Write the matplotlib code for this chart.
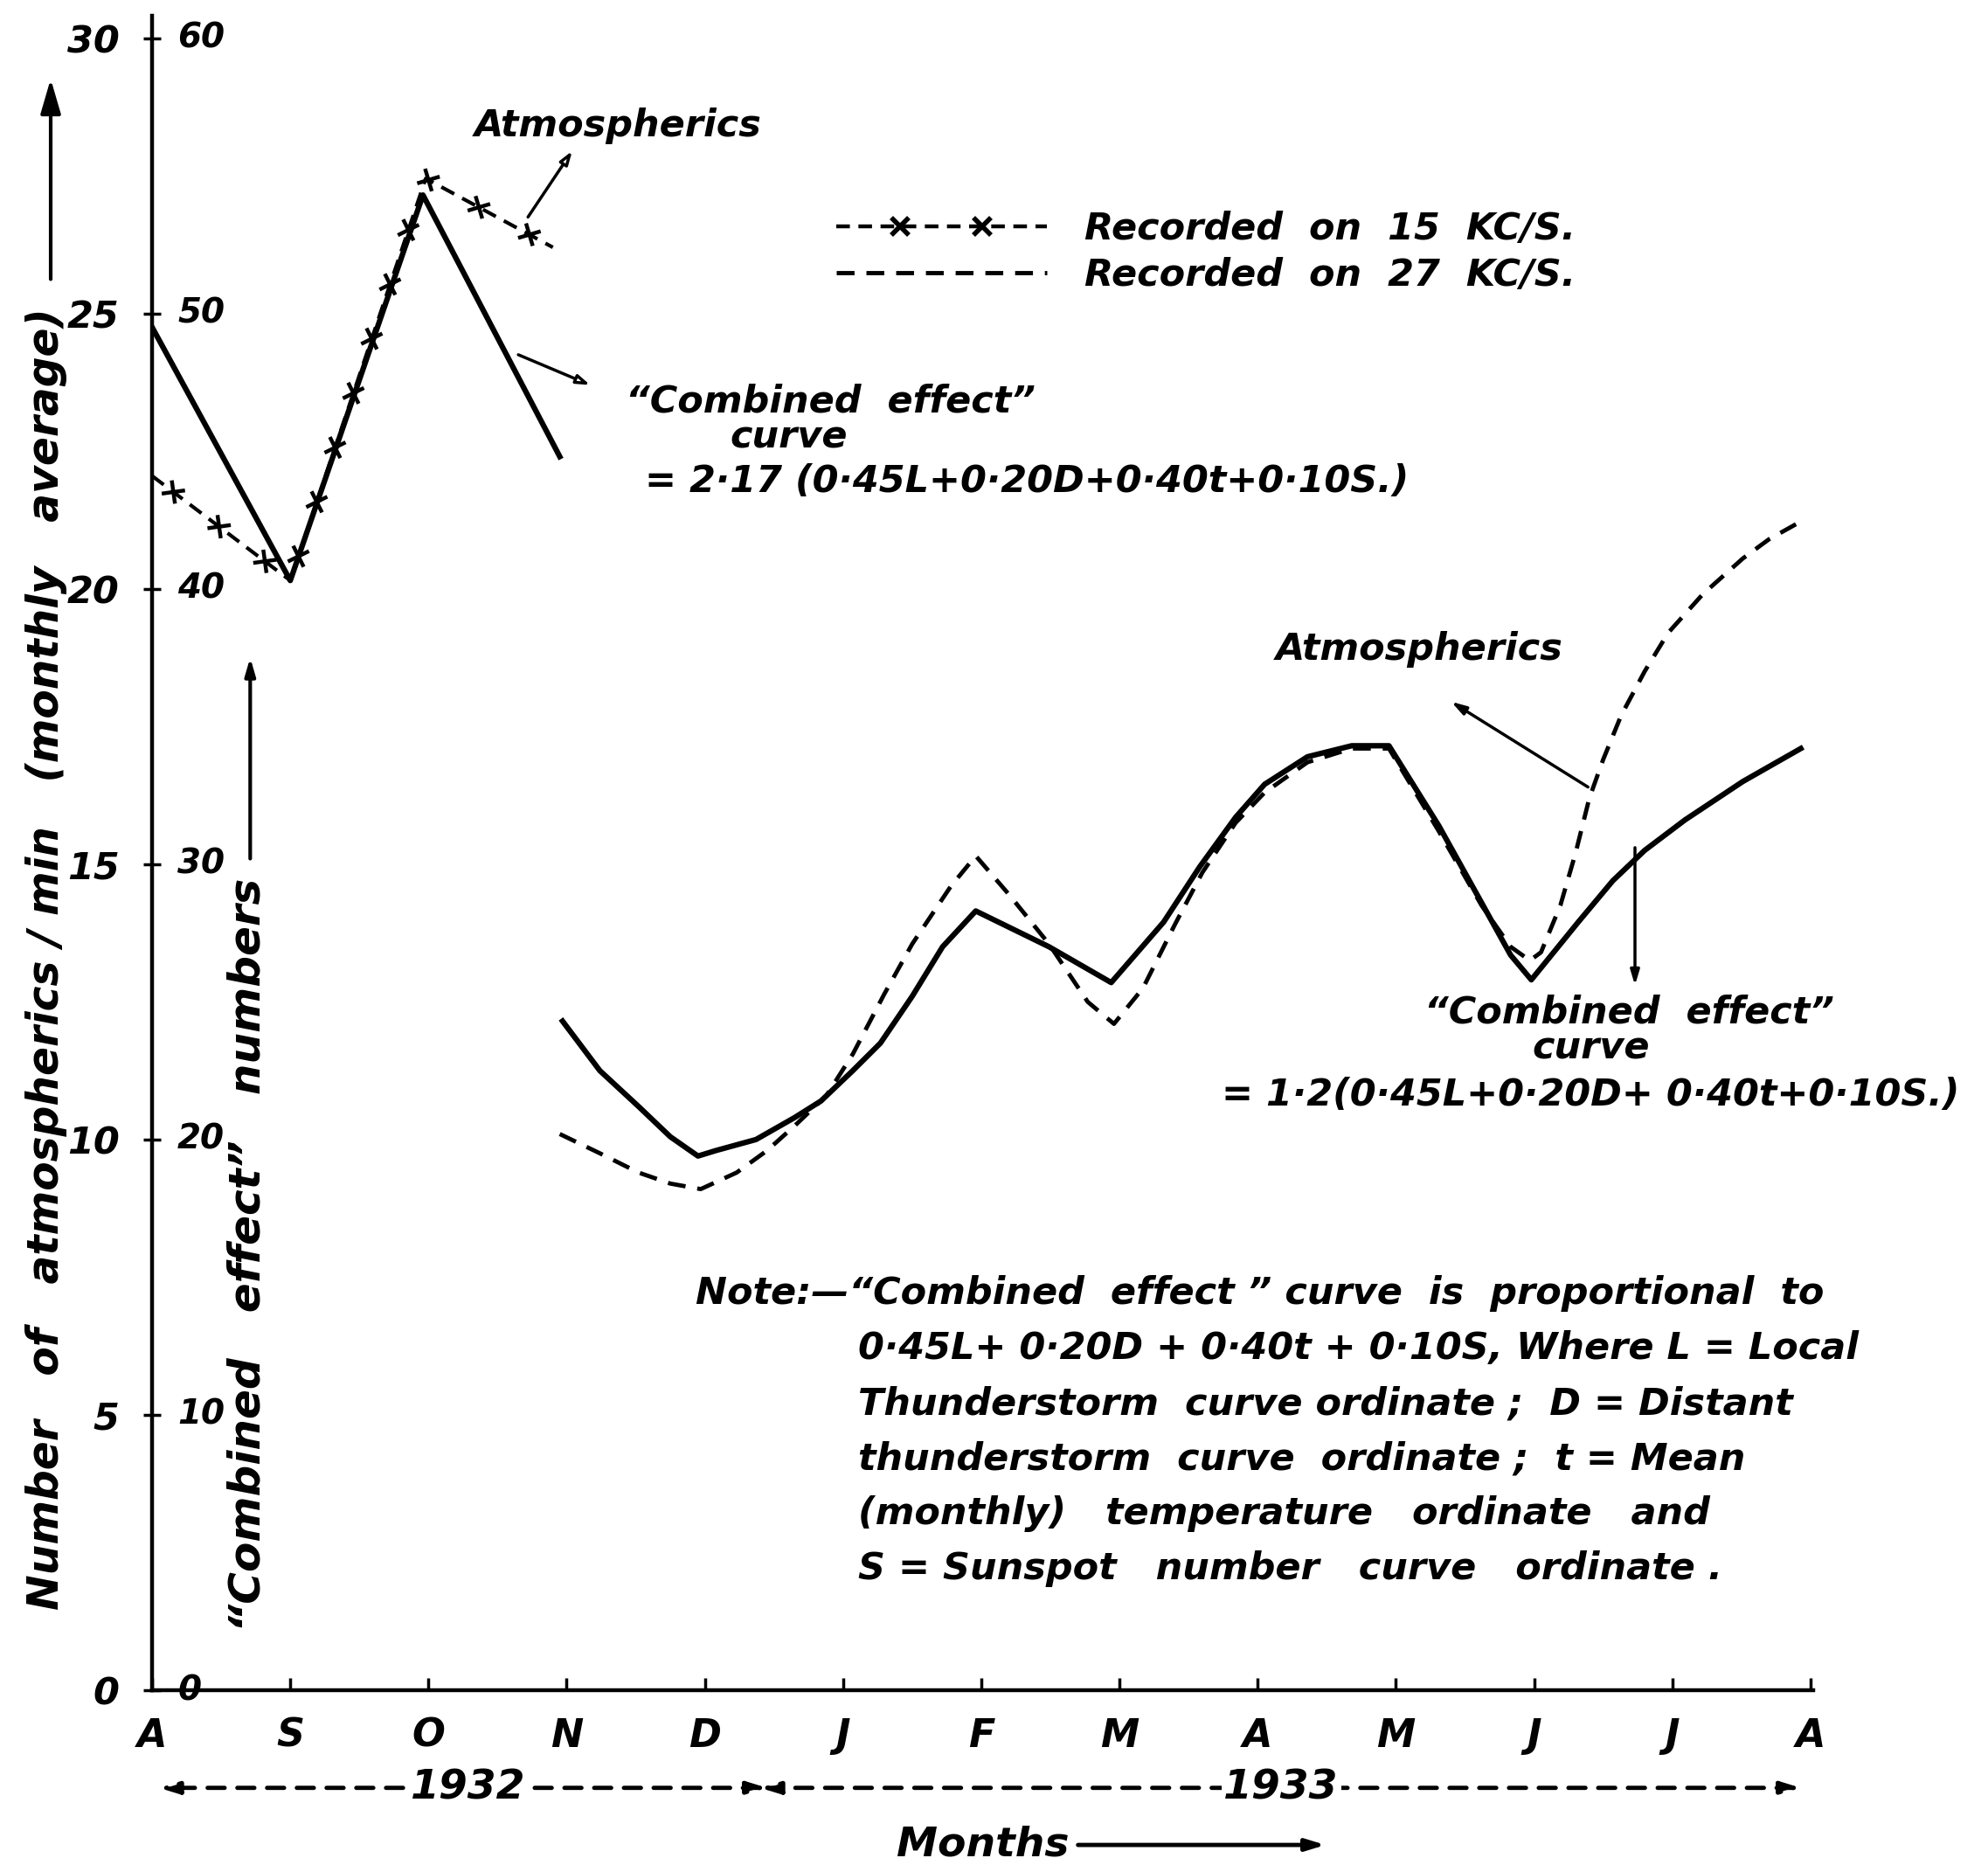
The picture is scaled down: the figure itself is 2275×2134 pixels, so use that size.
import matplotlib
matplotlib.use("Agg")
import numpy as np
import matplotlib.pyplot as plt
from matplotlib import patheffects as pe
from matplotlib.legend_handler import HandlerLine2D, HandlerTuple
from matplotlib.lines import Line2D

plt.rcParams['font.family'] = ['DejaVu Sans']
plt.rcParams['font.weight'] = 'bold'
plt.rcParams['font.style'] = 'italic'

# month axis: 0 = Aug 1932 ... 12 = Aug 1933
months = ['A', 'S', 'O', 'N', 'D', 'J', 'F', 'M', 'A', 'M', 'J', 'J', 'A']
left_ticks = [0, 5, 10, 15, 20, 25, 30]          # atmospherics / min
right_ticks = [0, 10, 20, 30, 40, 50, 60]        # "combined effect" numbers

# 1932 part, "combined effect" numbers
comb_1932_x = [0, 1, 1.96, 2.95]
comb_1932 = [49.5, 40.3, 54.3, 44.8]

# atmospherics recorded on 15 kc/s (per min)
atm15_x = [0, 1, 1.98, 2.9]
atm15 = [22.05, 20.15, 27.45, 26.2]

# 1932-33 part, "combined effect" numbers
comb_1933_x = [2.97, 3.24, 3.52, 3.75, 3.95, 4.08, 4.37, 4.65, 4.84, 5.07,
               5.27, 5.50, 5.72, 5.96, 6.49, 6.94, 7.32, 7.58, 7.84, 8.05,
               8.36, 8.68, 8.95, 9.31, 9.62, 9.83, 9.98, 10.32, 10.57, 10.80,
               11.09, 11.51, 11.93]
comb_1933 = [24.3, 22.5, 21.2, 20.1, 19.4, 19.6, 20.0, 20.8, 21.4, 22.5,
             23.5, 25.2, 27.0, 28.3, 27.0, 25.7, 27.9, 29.9, 31.7, 32.9,
             33.9, 34.3, 34.3, 31.4, 28.6, 26.7, 25.8, 27.9, 29.4, 30.5,
             31.6, 33.0, 34.2]

# atmospherics recorded on 27 kc/s (per min)
atm27_x = [2.95, 3.24, 3.52, 3.75, 3.97, 4.23, 4.45, 4.65, 4.88, 5.07,
           5.30, 5.50, 5.78, 5.96, 6.20, 6.49, 6.77, 6.96, 7.17, 7.40,
           7.60, 7.84, 8.05, 8.36, 8.68, 8.95, 9.31, 9.62, 9.83, 9.97,
           10.05, 10.19, 10.30, 10.40, 10.50, 10.63, 10.80, 10.97, 11.22, 11.51,
           11.70, 11.95]
atm27 = [10.1, 9.75, 9.4, 9.2, 9.1, 9.4, 9.8, 10.25, 10.8, 11.55,
         12.65, 13.55, 14.6, 15.15, 14.45, 13.55, 12.5, 12.1, 12.75, 13.9,
         14.85, 15.75, 16.3, 16.85, 17.1, 17.1, 15.6, 14.25, 13.5, 13.25,
         13.4, 14.25, 15.2, 16.2, 16.9, 17.7, 18.5, 19.2, 19.9, 20.55,
         20.9, 21.25]

FS = 31

fig = plt.figure(figsize=(22.75, 21.34), dpi=100)
ax = fig.add_axes([0.0765, 0.0937, 0.8356, 0.8977])

# atmospherics are plotted on the combined scale (1 atm/min = 2 units)
atm15_plot = np.array(atm15) * 2
atm27_plot = np.array(atm27) * 2

ax.plot(comb_1932_x, comb_1932, color='black', lw=4.5)
ax.plot(comb_1933_x, comb_1933, color='black', lw=4.5)

# dashed line with little crosses along it ("--x--x--")
solid_gc = {'dash_offset': 0, 'dash_list': None}
cross = [pe.TickedStroke(angle=a, spacing=44, length=0.22, linewidth=3.2,
                         dashes=solid_gc) for a in (45, 135, -45, -135)]
l15, = ax.plot(atm15_x, atm15_plot, color='black', lw=3, dashes=(4, 2.5),
               path_effects=[pe.Normal()] + cross)
l27, = ax.plot(atm27_x, atm27_plot, color='black', lw=3.5, dashes=(4.2, 2.8))

ax.set_xlim(0, 12.02)
ax.set_ylim(0, 60.8)
for s in ['top', 'right']:
    ax.spines[s].set_visible(False)
for s in ['left', 'bottom']:
    ax.spines[s].set_linewidth(3.2)

ax.set_xticks(range(len(months)))
ax.set_xticklabels(months, fontsize=FS + 1)
ax.tick_params(axis='x', direction='in', length=10, width=2.5, pad=22)
ax.set_yticks(right_ticks)
ax.set_yticklabels([str(v) for v in left_ticks], fontsize=FS)
ax.tick_params(axis='y', direction='inout', length=14, width=2.5, pad=20)
for v in right_ticks:
    ax.text(0.0153, v, str(v), transform=ax.get_yaxis_transform(),
            ha='left', va='center', fontsize=FS - 3)

# legend
dash_proxy = Line2D([], [], color='black', lw=3.2, dashes=(3.5, 2.2))
x_proxy = Line2D([], [], color='black', ls='none', marker='x', markersize=14, mew=4)
hmap = {tuple: HandlerTuple(ndivide=1, pad=0),
        x_proxy: HandlerLine2D(numpoints=2, marker_pad=1.7),
        dash_proxy: HandlerLine2D(numpoints=1)}
ax.legend([(dash_proxy, x_proxy), l27],
          ['Recorded  on  15  KC/S.', 'Recorded  on  27  KC/S.'],
          handler_map=hmap, loc='upper left', bbox_to_anchor=(0.411, 0.897),
          bbox_transform=fig.transFigure, frameon=False, fontsize=FS,
          handlelength=5.6, handletextpad=1.0, labelspacing=0.25, borderpad=0)

# annotations, upper part
ax.text(3.37, 56.8, 'Atmospherics', fontsize=FS, ha='center', va='center')
ax.annotate('', xy=(3.04, 55.9), xytext=(2.72, 53.5),
            arrowprops=dict(arrowstyle='-|>,head_length=0.9,head_width=0.3',
                            fc='white', ec='black', lw=2.5, shrinkA=0, shrinkB=0))
ax.annotate('', xy=(3.17, 47.4), xytext=(2.65, 48.5),
            arrowprops=dict(arrowstyle='-|>,head_length=0.9,head_width=0.3',
                            fc='white', ec='black', lw=2.5, shrinkA=0, shrinkB=0))
ax.text(4.91, 46.8, '\u201cCombined  effect\u201d', fontsize=FS, ha='center', va='center')
ax.text(4.61, 45.5, 'curve', fontsize=FS, ha='center', va='center')
ax.text(6.33, 43.9, '= 2\u00b717 (0\u00b745L+0\u00b720D+0\u00b740t+0\u00b710S.)',
        fontsize=FS, ha='center', va='center')

# annotations, lower part
ax.text(9.17, 37.8, 'Atmospherics', fontsize=FS, ha='center', va='center')
ax.annotate('', xy=(9.40, 35.9), xytext=(10.39, 32.8),
            arrowprops=dict(arrowstyle='-|>,head_length=1.0,head_width=0.3',
                            fc='black', ec='black', lw=2.5, shrinkA=0, shrinkB=0))
ax.annotate('', xy=(10.73, 25.6), xytext=(10.73, 30.6),
            arrowprops=dict(arrowstyle='-|>,head_length=1.0,head_width=0.3',
                            fc='black', ec='black', lw=2.5, shrinkA=0, shrinkB=0))
ax.text(10.69, 24.6, '\u201cCombined  effect\u201d', fontsize=FS, ha='center', va='center')
ax.text(10.41, 23.3, 'curve', fontsize=FS, ha='center', va='center')
ax.text(10.41, 21.6, '= 1\u00b72(0\u00b745L+0\u00b720D+ 0\u00b740t+0\u00b710S.)',
        fontsize=FS, ha='center', va='center', clip_on=False)

# note
note_lines = ['0\u00b745L+ 0\u00b720D + 0\u00b740t + 0\u00b710S, Where L = Local',
              'Thunderstorm  curve ordinate ;  D = Distant',
              'thunderstorm  curve  ordinate ;  t = Mean',
              '(monthly)   temperature   ordinate   and',
              'S = Sunspot   number   curve   ordinate .']
ax.text(3.93, 14.4, 'Note:\u2014\u201cCombined  effect \u201d curve  is  proportional  to',
        fontsize=FS, ha='left', va='center')
for k, line in enumerate(note_lines):
    ax.text(5.11, 12.4 - 2.0 * k, line, fontsize=FS, ha='left', va='center')

# axis titles
fig.text(0.0235, 0.486, 'Number   of   atmospherics / min   (monthly   average)',
         rotation=90, fontsize=35, ha='center', va='center')
fig.add_artist(matplotlib.patches.FancyArrowPatch(
    (0.0255, 0.849), (0.0255, 0.959), transform=fig.transFigure,
    arrowstyle='-|>,head_length=1.2,head_width=0.35', color='black', lw=3,
    mutation_scale=20))
ax.text(0.69, 15.8, '\u201cCombined   effect\u201d   numbers', rotation=90,
        fontsize=36, ha='center', va='center')
ax.annotate('', xy=(0.71, 37.5), xytext=(0.71, 30.2),
            arrowprops=dict(arrowstyle='-|>,head_length=1.2,head_width=0.35',
                            fc='black', ec='black', lw=3, shrinkA=0, shrinkB=0))

# year bands and months title
tr = ax.get_xaxis_transform()
for x0, x1, label, xc in [(0.05, 4.45, '1932', 2.29), (4.40, 11.93, '1933', 8.17)]:
    ax.annotate('', xy=(x0, -0.0583), xytext=(x1, -0.0583), xycoords=tr,
                textcoords=tr,
                arrowprops=dict(arrowstyle='<|-|>,head_length=1.3,head_width=0.4',
                                fc='black', ec='black', lw=3.5, ls=(0, (4, 3)),
                                shrinkA=0, shrinkB=0))
    ax.text(xc, -0.0583, label, transform=tr, fontsize=FS + 3, ha='center',
            va='center', bbox=dict(fc='white', ec='none', pad=2))
ax.text(6.01, -0.0924, 'Months', transform=tr, fontsize=FS + 3, ha='center',
        va='center')
ax.annotate('', xy=(8.49, -0.0924), xytext=(6.70, -0.0924), xycoords=tr,
            textcoords=tr,
            arrowprops=dict(arrowstyle='-|>,head_length=1.3,head_width=0.4',
                            fc='black', ec='black', lw=3.5, shrinkA=0, shrinkB=0))

fig.savefig('out.png', dpi=100)
